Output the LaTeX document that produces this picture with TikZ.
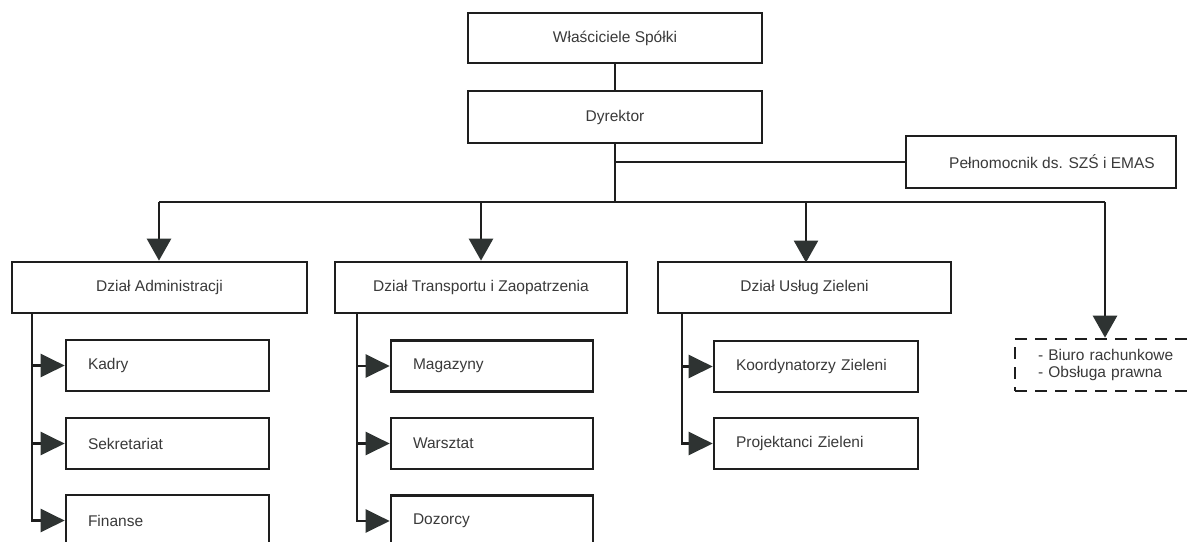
\documentclass[tikz,border=0pt]{standalone}
\usepackage{fontspec}
\setmainfont{Liberation Sans}
\usetikzlibrary{arrows.meta}
\definecolor{ln}{HTML}{1E1E1E}
\definecolor{tipc}{HTML}{2E3332}
\definecolor{txt}{HTML}{3A3A3A}
\begin{document}
\begin{tikzpicture}[x=1pt,y=1pt,
  box/.style={draw=ln, line width=2.7pt, rectangle, inner sep=0pt, text=txt,
    font=\fontsize{15.5}{18}\selectfont, fill=white},
  subbox/.style={box, inner xsep=22pt, align=left},
  conn/.style={draw=ln, line width=2.7pt},
  tipd/.style={-{Triangle[length=22pt,width=24pt,fill=tipc,color=tipc]}},
  tips/.style={-{Triangle[length=24pt,width=23pt,fill=tipc,color=tipc]}},
  dbox/.style={draw=ln, line width=2.7pt, dash pattern=on 12pt off 8pt, rectangle,
    inner sep=0pt, inner xsep=23pt, text=txt, align=left,
    font=\fontsize{15.5}{16.5}\selectfont}
]
\useasboundingbox (0,0) rectangle (1188,-541);
\fill[white] (0,0) rectangle (1188,-541);

% top
\node[box, minimum width=294, minimum height=50] (own) at (615,-38) {Właściciele Spółki};
\node[box, minimum width=294, minimum height=52] (dyr) at (615,-117) {Dyrektor};
\node[box, minimum width=270, minimum height=52] (pel) at (1041,-162) {\hspace*{22pt}Pełnomocnik ds. SZŚ i EMAS};

% departments
\node[box, minimum width=295, minimum height=51] (adm) at (159.5,-287.5) {Dział Administracji};
\node[box, minimum width=292, minimum height=51] (tra) at (481,-287.5) {Dział Transportu i Zaopatrzenia};
\node[box, minimum width=293, minimum height=51] (zie) at (804.5,-287.5) {Dział Usług Zieleni};

% sub units
\node[subbox, minimum width=203, minimum height=51, text width=159] (kad) at (167.5,-365.5) {Kadry};
\node[subbox, minimum width=203, minimum height=51, text width=159] (sek) at (167.5,-443.5) {Sekretariat};
\node[subbox, minimum width=203, minimum height=51, text width=159] (fin) at (167.5,-520.5) {Finanse};

\node[subbox, minimum width=202, minimum height=51, text width=158] (mag) at (492,-366) {Magazyny};
\node[subbox, minimum width=202, minimum height=51, text width=158] (war) at (492,-443.5) {Warsztat};
\node[subbox, minimum width=202, minimum height=51, text width=158] (doz) at (492,-521) {Dozorcy};

\node[subbox, minimum width=204, minimum height=51, text width=160] (koo) at (816,-366.5) {Koordynatorzy Zieleni};
\node[subbox, minimum width=204, minimum height=51, text width=160] (pro) at (816,-443.5) {Projektanci Zieleni};

\node[dbox, minimum width=190, minimum height=52, text width=144] (ext) at (1110,-365) {- Biuro rachunkowe\\- Obsługa prawna};

% connectors top
\draw[conn] (own.south) -- (dyr.north);
\coordinate (bl) at (159,-202);
\coordinate (br) at (1105,-202);
\coordinate (dp) at (dyr.south |- pel.west);
\draw[conn] (dyr.south) -- (dyr.south |- bl);
\draw[conn] (dp) -- (pel.west);
\draw[conn] (bl) -- (br);

% down arrows
\draw[conn,tipd] (bl) -- (adm.north -| bl);
\draw[conn,tipd] (tra.north |- bl) -- (tra.north);
\draw[conn,tipd] (806,-202) -- (806,-262.5);
\draw[conn,tipd] (br) -- (br |- ext.north);

% side spines
\coordinate (as) at (32,-313);
\coordinate (ts) at (357,-313);
\coordinate (zs) at (682,-313);
\draw[conn,tips] (as) |- (fin.west);
\draw[conn,tips] (as |- kad.west) -- (kad.west);
\draw[conn,tips] (as |- sek.west) -- (sek.west);

\draw[conn,tips] (ts) |- (doz.west);
\draw[conn,tips] (ts |- mag.west) -- (mag.west);
\draw[conn,tips] (ts |- war.west) -- (war.west);

\draw[conn,tips] (zs) |- (pro.west);
\draw[conn,tips] (zs |- koo.west) -- (koo.west);
\end{tikzpicture}
\end{document}
